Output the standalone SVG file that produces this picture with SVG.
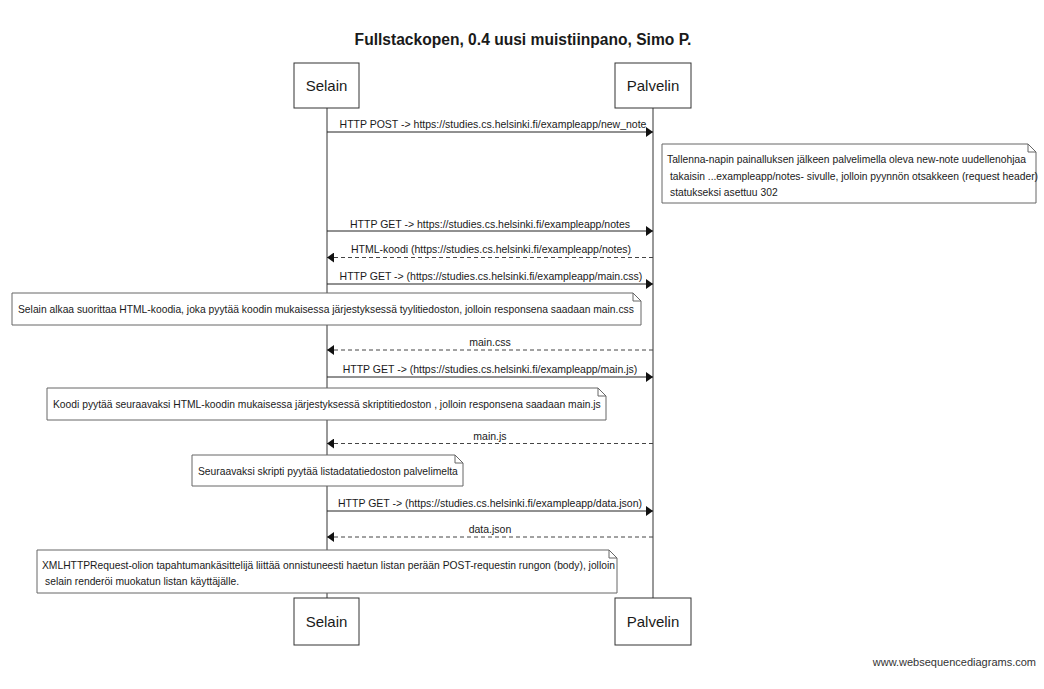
<svg xmlns="http://www.w3.org/2000/svg" width="1044" height="689" viewBox="0 0 1044 689">
<style>
  text { font-family: "Liberation Sans", Arial, sans-serif; fill: #1a1a1a; }
  .title { font-size: 15.6px; font-weight: bold; }
  .actor rect { fill: #ffffff; stroke: #333333; stroke-width: 1; }
  .actor text { font-size: 15px; text-anchor: middle; }
  .life { stroke: #333333; stroke-width: 1; fill: none; }
  .msg { stroke: #222222; stroke-width: 1; fill: none; }
  .ret { stroke: #444444; stroke-width: 1; fill: none; stroke-dasharray: 4 3; }
  .lbl { font-size: 10.5px; text-anchor: middle; }
  .note path { fill: #ffffff; stroke: #666666; stroke-width: 1; }
  .note text { font-size: 10.3px; }
  .wm { font-size: 11px; fill: #333333; }
</style>
<defs>
  <marker id="ah" markerWidth="8" markerHeight="10" refX="7" refY="5" orient="auto" markerUnits="userSpaceOnUse">
    <path d="M0,0 L7,5 L0,10 Z" fill="#111111"/>
  </marker>
</defs>
<rect width="1044" height="689" fill="#ffffff"/>
<text class="title" x="523" y="45" text-anchor="middle">Fullstackopen, 0.4 uusi muistiinpano, Simo P.</text>

<g id="lifelines">
  <line class="life" x1="327" y1="108" x2="327" y2="598"/>
  <line class="life" x1="653" y1="108" x2="653" y2="598"/>
</g>

<g id="selain-top" class="actor">
  <rect x="294" y="63" width="65" height="45"/>
  <text x="326.5" y="91">Selain</text>
</g>
<g id="palvelin-top" class="actor">
  <rect x="615" y="63" width="76" height="45"/>
  <text x="653" y="91">Palvelin</text>
</g>
<g id="selain-bottom" class="actor">
  <rect x="294" y="598" width="65" height="47"/>
  <text x="326.5" y="627">Selain</text>
</g>
<g id="palvelin-bottom" class="actor">
  <rect x="615" y="598" width="76" height="47"/>
  <text x="653" y="627">Palvelin</text>
</g>

<g id="connectors">
  <line class="msg" x1="327" y1="132" x2="653" y2="132" marker-end="url(#ah)"/>
  <text class="lbl" x="493" y="128">HTTP POST -&gt; https://studies.cs.helsinki.fi/exampleapp/new_note</text>

  <line class="msg" x1="327" y1="231" x2="653" y2="231" marker-end="url(#ah)"/>
  <text class="lbl" x="490" y="227.5">HTTP GET -&gt; https://studies.cs.helsinki.fi/exampleapp/notes</text>

  <line class="ret" x1="653" y1="257.5" x2="327" y2="257.5" marker-end="url(#ah)"/>
  <text class="lbl" x="491" y="253">HTML-koodi (https://studies.cs.helsinki.fi/exampleapp/notes)</text>

  <line class="msg" x1="327" y1="284" x2="653" y2="284" marker-end="url(#ah)"/>
  <text class="lbl" x="491" y="280">HTTP GET -&gt; (https://studies.cs.helsinki.fi/exampleapp/main.css)</text>

  <line class="ret" x1="653" y1="350" x2="327" y2="350" marker-end="url(#ah)"/>
  <text class="lbl" x="490" y="346">main.css</text>

  <line class="msg" x1="327" y1="377" x2="653" y2="377" marker-end="url(#ah)"/>
  <text class="lbl" x="490" y="373">HTTP GET -&gt; (https://studies.cs.helsinki.fi/exampleapp/main.js)</text>

  <line class="ret" x1="653" y1="443.5" x2="327" y2="443.5" marker-end="url(#ah)"/>
  <text class="lbl" x="490" y="440">main.js</text>

  <line class="msg" x1="327" y1="511" x2="653" y2="511" marker-end="url(#ah)"/>
  <text class="lbl" x="490" y="507">HTTP GET -&gt; (https://studies.cs.helsinki.fi/exampleapp/data.json)</text>

  <line class="ret" x1="653" y1="537" x2="327" y2="537" marker-end="url(#ah)"/>
  <text class="lbl" x="490" y="533">data.json</text>
</g>

<g id="note1" class="note">
  <path d="M662,144 H1028 L1036,152 V203 H662 Z M1028,144 V152 H1036"/>
  <text x="667" y="163">Tallenna-napin painalluksen jälkeen palvelimella oleva new-note uudellenohjaa</text>
  <text x="670" y="179.5">takaisin ...exampleapp/notes- sivulle, jolloin pyynnön otsakkeen (request header)</text>
  <text x="670" y="196">statukseksi asettuu 302</text>
</g>

<g id="note2" class="note">
  <path d="M12,293 H633 L641,301 V325 H12 Z M633,293 V301 H641"/>
  <text x="18" y="313">Selain alkaa suorittaa HTML-koodia, joka pyytää koodin mukaisessa järjestyksessä tyylitiedoston, jolloin responsena saadaan main.css</text>
</g>

<g id="note3" class="note">
  <path d="M47,388 H598 L606,396 V420 H47 Z M598,388 V396 H606"/>
  <text x="53" y="408">Koodi pyytää seuraavaksi HTML-koodin mukaisessa järjestyksessä skriptitiedoston , jolloin responsena saadaan main.js</text>
</g>

<g id="note4" class="note">
  <path d="M192,455 H455 L463,463 V486 H192 Z M455,455 V463 H463"/>
  <text x="198" y="474.5">Seuraavaksi skripti pyytää listadatatiedoston palvelimelta</text>
</g>

<g id="note5" class="note">
  <path d="M37,550 H609 L617,558 V593 H37 Z M609,550 V558 H617"/>
  <text x="42" y="568.5">XMLHTTPRequest-olion tapahtumankäsittelijä liittää onnistuneesti haetun listan perään POST-requestin rungon (body), jolloin</text>
  <text x="45" y="585">selain renderöi muokatun listan käyttäjälle.</text>
</g>

<text class="wm" x="1036" y="666" text-anchor="end">www.websequencediagrams.com</text>
</svg>
